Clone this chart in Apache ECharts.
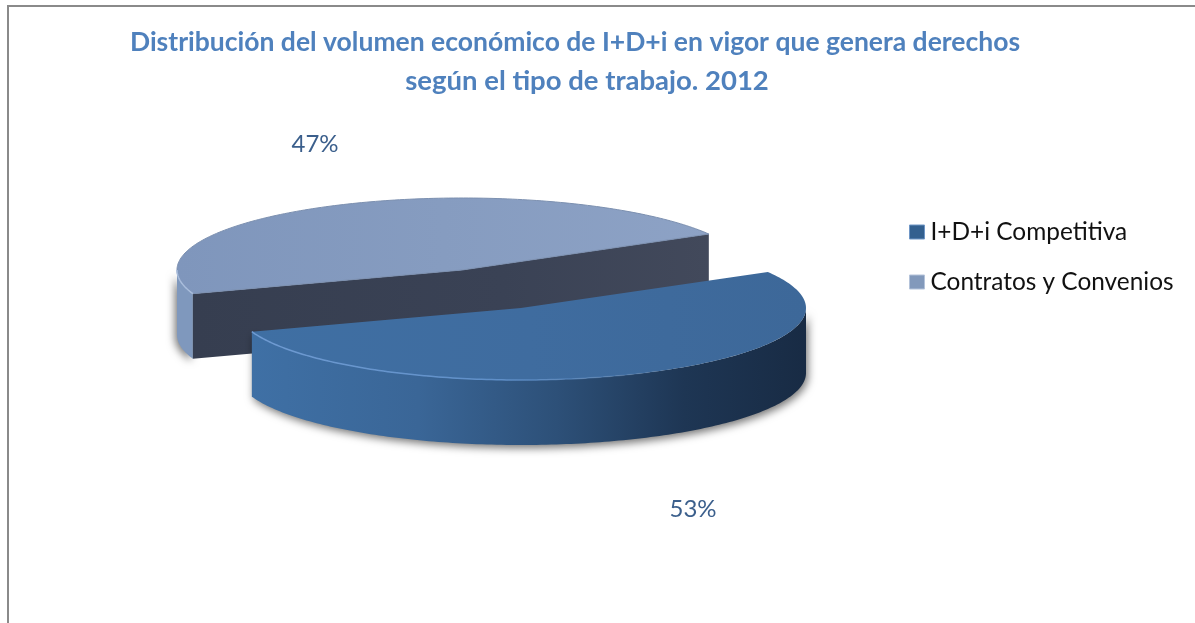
<!DOCTYPE html>
<html>
<head>
<meta charset="utf-8">
<style>
  html, body { margin: 0; padding: 0; background: #fff; overflow: hidden; }
  #chart { width: 1195px; height: 623px; }
</style>
<script src="https://cdn.jsdelivr.net/npm/echarts@6/dist/echarts.min.js"></script>
</head>
<body>
<div id="chart"></div>
<script>
// datos
const categories = ['I+D+i Competitiva', 'Contratos y Convenios']
const values = [53, 47]
const titleLines = [
  'Distribución del volumen económico de I+D+i en vigor que genera derechos',
  'según el tipo de trabajo. 2012'
]

// layout of the flattened pie
const splitAngle = 30   // where the two slices meet, degrees counter-clockwise from east
const depth = 65
const total = values.reduce((a, b) => a + b, 0)
const contratosSweep = values[1] / total * 360

const ell = (p, deg) => {
  const r = deg * Math.PI / 180
  return [p.cx + p.rx * Math.cos(r), p.cy - p.ry * Math.sin(r)]
}
const arc = (p, from, to) => {
  const pts = []
  const n = Math.ceil(Math.abs(to - from))
  for (let i = 0; i <= n; i++) pts.push(ell(p, from + (to - from) * i / n))
  return pts
}
const down = pts => pts.map(q => [q[0], q[1] + depth]).reverse()
const hGrad = stops => ({
  type: 'linear', x: 0, y: 0, x2: 1, y2: 0,
  colorStops: stops.map(s => ({ offset: s[0], color: s[1] }))
})
const labelStyle = (text, x, y) => ({
  type: 'text',
  z2: 10,
  style: {
    text, x, y,
    fill: '#3b5f8c',
    font: '24px Lato, "Noto Sans", sans-serif',
    align: 'center',
    verticalAlign: 'middle'
  }
})
const titleStyle = {
  color: '#4f81bd',
  fontFamily: 'Lato, "Noto Sans", sans-serif',
  fontWeight: 'bold',
  fontSize: 26.5
}

// corte gris: cara superior, lateral y caras de corte oscuras
function renderContratos(params, api) {
  const p = { cx: 462, cy: 270, rx: 285, ry: 72 }
  const start = splitAngle
  const end = start + api.value(0) / total * 360
  const a = ell(p, start), b = ell(p, end), c = [p.cx, p.cy]
  const cut = [b, c, a]
  return {
    type: 'group',
    children: [
      {
        type: 'polygon',
        shape: { points: arc(p, 180, end).concat(down(arc(p, 180, end))) },
        style: {
          fill: '#7f98bd',
          shadowBlur: 8, shadowOffsetX: -2, shadowOffsetY: 2, shadowColor: 'rgba(0,0,0,0.55)'
        }
      },
      {
        type: 'polygon',
        shape: { points: cut.concat(down(cut)) },
        style: { fill: hGrad([[0, '#363e50'], [0.6, '#3a4255'], [1, '#42495b']]) }
      },
      {
        type: 'polygon',
        shape: { points: arc(p, start, end).concat([c]) },
        style: { fill: hGrad([[0, '#7f96bc'], [0.5, '#869cc0'], [1, '#8da2c5']]), stroke: '#7c90b0', lineWidth: 1 }
      },
      {
        type: 'polyline',
        shape: { points: arc(p, 180, end) },
        style: { stroke: '#a9bddc', lineWidth: 1.5, fill: 'none' }
      },
      labelStyle(api.value(0) + '%', 315, 144)
    ]
  }
}

// corte azul, desplazado hacia delante
function renderCompetitiva(params, api) {
  const p = { cx: 521, cy: 308, rx: 285, ry: 72 }
  const start = splitAngle + contratosSweep
  const end = start + api.value(0) / total * 360
  const side = arc(p, start, 360)
  return {
    type: 'group',
    children: [
      {
        type: 'polygon',
        shape: { points: side.concat(down(side)) },
        style: {
          fill: hGrad([[0, '#3f70a5'], [0.3, '#3a6697'], [0.55, '#2d5078'], [0.78, '#1e3654'], [1, '#182b44']]),
          shadowBlur: 8, shadowOffsetX: 2, shadowOffsetY: 3, shadowColor: 'rgba(0,0,0,0.55)'
        }
      },
      {
        type: 'polygon',
        shape: { points: arc(p, start, end).concat([[p.cx, p.cy]]) },
        style: { fill: hGrad([[0, '#3f6fa3'], [0.5, '#3f6c9f'], [1, '#3d6899']]) }
      },
      {
        type: 'polyline',
        shape: { points: arc(p, start, 300) },
        style: {
          fill: 'none',
          lineWidth: 1.5,
          stroke: hGrad([[0, '#6f9bd2'], [0.6, '#5f8fc8'], [1, 'rgba(95,143,200,0)']])
        }
      },
      labelStyle(api.value(0) + '%', 693, 509)
    ]
  }
}

const chart = echarts.init(document.getElementById('chart'), null, { renderer: 'canvas' })
chart.setOption({
  animation: false,
  backgroundColor: '#fff',
  // dos titulos: la segunda linea no esta centrada igual que la primera
  title: [
    { text: titleLines[0], left: 570, top: 24, textAlign: 'center', textStyle: titleStyle },
    { text: titleLines[1], left: 582, top: 62, textAlign: 'center', textStyle: Object.assign({}, titleStyle, { fontSize: 27.5 }) }
  ],
  legend: {
    orient: 'vertical',
    left: 904,
    top: 215,
    itemWidth: 15,
    itemHeight: 14,
    itemGap: 26,
    icon: 'rect',
    textStyle: {
      color: '#111',
      fontFamily: 'Lato, "Noto Sans", sans-serif',
      fontSize: 24.4,
      padding: [0, 0, 0, 1]
    },
    data: [
      { name: categories[0], itemStyle: { color: '#33608f', borderColor: '#6f96c6', borderWidth: 1 } },
      { name: categories[1], itemStyle: { color: '#8299bb', borderColor: '#b4c3da', borderWidth: 1 } }
    ]
  },
  graphic: [{
    type: 'rect',
    shape: { x: 8, y: 6, width: 1400, height: 900 },
    style: { fill: 'none', stroke: '#8a8a8a', lineWidth: 2 }
  }],
  series: [
    {
      type: 'custom',
      name: categories[1],
      coordinateSystem: 'none',
      silent: true,
      clip: false,
      itemStyle: { color: '#8299bb' },
      renderItem: renderContratos,
      data: [[values[1]]]
    },
    {
      type: 'custom',
      name: categories[0],
      coordinateSystem: 'none',
      silent: true,
      clip: false,
      itemStyle: { color: '#33608f' },
      renderItem: renderCompetitiva,
      data: [[values[0]]]
    }
  ]
})
</script>
</body>
</html>
